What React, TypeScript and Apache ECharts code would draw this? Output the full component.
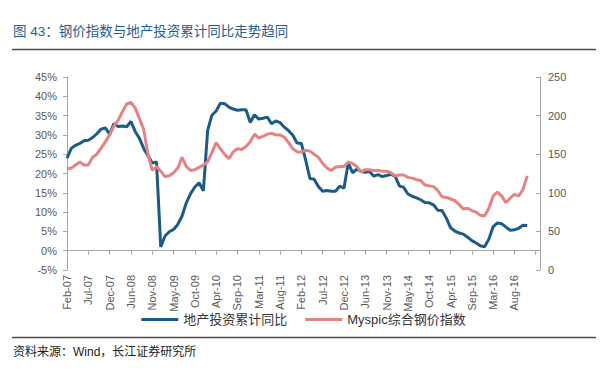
import React, { useEffect, useRef } from "react";
import * as echarts from "echarts";

const MONTHS = ["Feb", "Mar", "Apr", "May", "Jun", "Jul", "Aug", "Sep", "Oct", "Nov", "Dec"];
const YEARS = ["07", "08", "09", "10", "11", "12", "13", "14", "15", "16", "17"];
const categories: string[] = [];
YEARS.forEach((y) => MONTHS.forEach((m) => categories.push(`${m}-${y}`)));
const axisCategories = categories.slice(0, 112);
const LAST_LABEL_INDEX = 108;

// 地产投资累计同比 (%), Feb-07 .. Nov-16
const investYoY = [
  24.0, 26.5, 27.3, 27.8, 28.5, 28.6, 29.3, 30.3, 31.5, 31.8, 30.2,
  32.9, 32.2, 32.3, 32.1, 33.5, 30.9, 29.1, 26.5, 24.6, 22.7, 23.0,
  1.0, 3.8, 4.9, 5.5, 6.8, 9.0, 12.4, 14.8, 16.5, 17.6, 15.5,
  31.1, 35.1, 36.2, 38.2, 38.1, 37.2, 36.7, 36.4, 36.5, 36.5, 33.2,
  35.2, 34.1, 34.3, 34.6, 32.9, 33.6, 33.2, 32.0, 31.1, 29.9, 27.9,
  27.8, 23.5, 18.7, 18.5, 16.6, 15.4, 15.6, 15.4, 15.4, 16.7, 16.2,
  22.8, 20.2, 21.1, 20.6, 20.3, 20.5, 19.3, 19.7, 19.2, 19.5, 19.8,
  19.3, 16.8, 16.4, 14.7, 14.1, 13.7, 13.2, 12.5, 12.4, 11.9, 10.5,
  10.4, 8.5, 6.0, 5.1, 4.6, 4.3, 3.5, 2.6, 2.0, 1.3, 1.0,
  3.0, 6.2, 7.2, 7.0, 6.1, 5.3, 5.4, 5.8, 6.6, 6.5,
];

// Myspic综合钢价指数, Feb-07 .. Nov-16
const steelIndex = [
  131, 132, 136, 140, 136, 136, 146, 150, 158, 166, 175,
  186, 194, 205, 215, 217, 210, 196, 182, 150, 129, 134,
  128, 121, 122, 126, 132, 146, 134, 129, 130, 133, 136,
  140, 152, 165, 157, 150, 144, 153, 157, 156, 160, 166,
  176, 171, 173, 176, 177, 175, 175, 172, 165, 157, 153,
  153, 155, 154, 150, 146, 138, 132, 129, 133, 134, 134,
  140, 138, 134, 127, 130, 130, 129, 129, 128, 128, 126,
  122, 123, 123, 120, 119, 117, 116, 110, 109, 108, 103,
  95, 94, 92, 90, 85, 79, 80, 77, 75, 71, 70,
  80, 96, 101, 96, 87, 93, 98, 96, 104, 122,
];

const leftTicks = { min: -5, max: 45, interval: 5 };
const rightTicks = { min: 0, max: 250, interval: 50 };

const FONT = "'Liberation Sans', Arial, 'Noto Sans CJK SC', sans-serif";
const BLUE = "#1B5B85";
const PINK = "#E38383";

export default function App() {
  const ref = useRef<HTMLDivElement>(null);
  useEffect(() => {
    if (!ref.current) return;
    const chart = echarts.init(ref.current, undefined, { renderer: "svg" });
    chart.setOption({
      animation: false,
      textStyle: { fontFamily: FONT },
      graphic: [
        {
          type: "text",
          left: 13,
          top: 25,
          style: {
            text: "图 43：钢价指数与地产投资累计同比走势趋同",
            fill: "#1F5F8F",
            font: `13.5px ${FONT}`,
          },
        },
        {
          type: "line",
          shape: { x1: 12, y1: 49.5, x2: 596, y2: 49.5 },
          style: { stroke: "#4a4a4a", lineWidth: 1.5 },
        },
        {
          type: "line",
          shape: { x1: 12, y1: 337.5, x2: 596, y2: 337.5 },
          style: { stroke: "#4a4a4a", lineWidth: 1.5 },
        },
        {
          type: "text",
          left: 13,
          top: 346,
          style: {
            text: "资料来源：Wind，长江证券研究所",
            fill: "#222",
            font: `12px ${FONT}`,
          },
        },
      ],
      legend: {
        top: 308,
        left: "center",
        itemWidth: 37,
        itemHeight: 3,
        itemGap: 18,
        icon: "rect",
        textStyle: { fontSize: 13, color: "#333", fontFamily: FONT },
        data: ["地产投资累计同比", "Myspic综合钢价指数"],
      },
      grid: { left: 67, right: 67, top: 77, bottom: 101, containLabel: false },
      xAxis: {
        type: "category",
        data: axisCategories,
        boundaryGap: false,
        axisLine: { onZero: true, onZeroAxisIndex: 0, lineStyle: { color: "#A6A6A6", width: 1 } },
        axisTick: { interval: 4, length: 4, lineStyle: { color: "#A6A6A6" } },
        axisLabel: {
          interval: 4,
          rotate: 90,
          margin: 5,
          fontSize: 11,
          color: "#595959",
          formatter: (v: string, i: number) => (i <= LAST_LABEL_INDEX ? v : ""),
        },
        splitLine: { show: false },
      },
      yAxis: [
        {
          type: "value",
          ...leftTicks,
          position: "left",
          axisLine: { show: true, lineStyle: { color: "#A6A6A6" } },
          axisTick: { show: true, length: 4, lineStyle: { color: "#A6A6A6" } },
          axisLabel: { formatter: (v: number) => `${v}%`, fontSize: 11, color: "#595959", margin: 10 },
          splitLine: { show: false },
        },
        {
          type: "value",
          ...rightTicks,
          position: "right",
          axisLine: { show: true, lineStyle: { color: "#A6A6A6" } },
          axisTick: { show: true, inside: true, length: 4, lineStyle: { color: "#A6A6A6" } },
          axisLabel: { fontSize: 11, color: "#595959", margin: 8 },
          splitLine: { show: false },
        },
      ],
      series: [
        {
          name: "地产投资累计同比",
          type: "line",
          yAxisIndex: 0,
          data: investYoY,
          symbol: "none",
          lineStyle: { color: BLUE, width: 3 },
          itemStyle: { color: BLUE },
          z: 2,
        },
        {
          name: "Myspic综合钢价指数",
          type: "line",
          yAxisIndex: 1,
          data: steelIndex,
          symbol: "none",
          lineStyle: { color: PINK, width: 3 },
          itemStyle: { color: PINK },
          z: 3,
        },
      ],
    });
    return () => chart.dispose();
  }, []);
  return (
    <div
      ref={ref}
      style={{ position: "fixed", left: 0, top: 0, width: 607, height: 371, background: "#fff" }}
    />
  );
}
